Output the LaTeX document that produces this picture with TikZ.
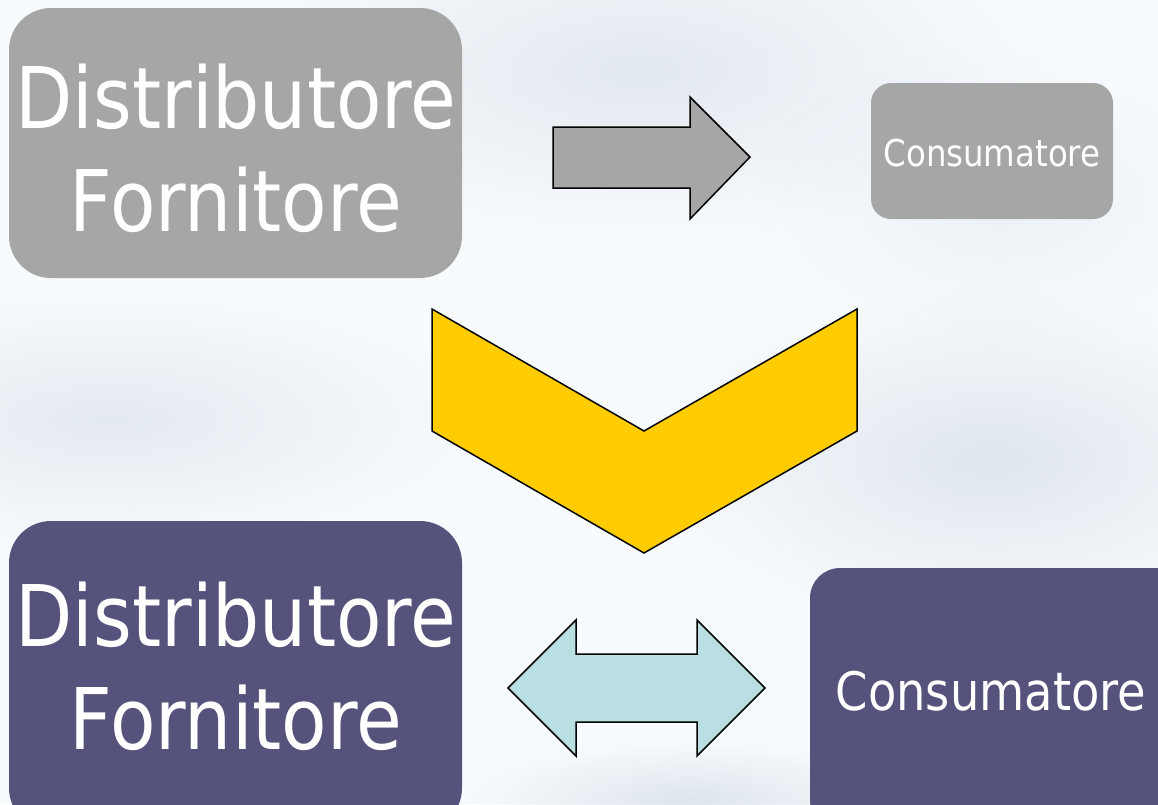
\documentclass[tikz,border=0pt]{standalone}
\usepackage{fontspec}
\setmainfont[FakeStretch=0.875]{DejaVu Sans}
\usetikzlibrary{fadings}
\definecolor{greybox}{HTML}{A6A6A6}
\definecolor{bluebox}{HTML}{55527C}
\definecolor{gold}{HTML}{FFCC00}
\definecolor{paleblue}{HTML}{B9DFE2}
\definecolor{bgbase}{HTML}{F8FBFE}
\definecolor{bgstreak}{HTML}{D2DBE5}
\tikzfading[name=softhaze, inner color=transparent!25, outer color=transparent!100]
\tikzset{
 x=1pt,y=-1pt,
 bigtext/.style={text=white,align=center,inner sep=0pt,font=\fontsize{85}{103}\selectfont},
 smalltext/.style={text=white,inner sep=0pt,font=\fontsize{37}{42}\selectfont},
 midtext/.style={text=white,inner sep=0pt,font=\fontsize{53}{60}\selectfont},
 shapeline/.style={draw=black,line width=1.5pt,line join=miter},
 haze/.style={fill=bgstreak,path fading=softhaze},
}
\begin{document}
\begin{tikzpicture}
\useasboundingbox (0,0) rectangle (1158,804);
\fill[bgbase] (0,0) rectangle (1158,804);
\begin{scope}
\clip (0,0) rectangle (1158,804);
\fill[haze,opacity=.75] (640,70) ellipse (400 and 170);
\fill[haze,opacity=.7] (110,420) ellipse (380 and 130);
\fill[haze,opacity=.85] (990,460) ellipse (340 and 170);
\fill[haze,opacity=.9] (690,800) ellipse (230 and 60);
\fill[haze,opacity=.5] (1000,790) ellipse (200 and 60);
\fill[haze,opacity=.4] (1000,200) ellipse (250 and 150);
\end{scope}
% boxes
\fill[greybox,rounded corners=42] (9,8) rectangle (462,278);
\node[bigtext] (d1) at (236,148) {Distributore\\Fornitore};
\fill[greybox,rounded corners=20] (871,83) rectangle (1113,219);
\node[smalltext] (c1) at (992,153) {Consumatore};
\fill[bluebox,rounded corners=42] (9,521) rectangle (462,830);
\node[bigtext] (d2) at (236,666) {Distributore\\Fornitore};
\fill[bluebox,rounded corners=30] (810,568) rectangle (1190,830);
\node[midtext] (c2) at (991,691) {Consumatore};
% arrows
\draw[shapeline,fill=greybox] (553,127) -- (690,127) -- (690,97) -- (750,157) -- (690,219) -- (690,188) -- (553,188) -- cycle;
\draw[shapeline,fill=gold] (432,309) -- (644,431) -- (857,309) -- (857,431) -- (644,553) -- (432,431) -- cycle;
\draw[shapeline,fill=paleblue] (508,688) -- (576,620) -- (576,654) -- (697,654) -- (697,620) -- (765,688) -- (697,756) -- (697,722) -- (576,722) -- (576,756) -- cycle;
\end{tikzpicture}
\end{document}
